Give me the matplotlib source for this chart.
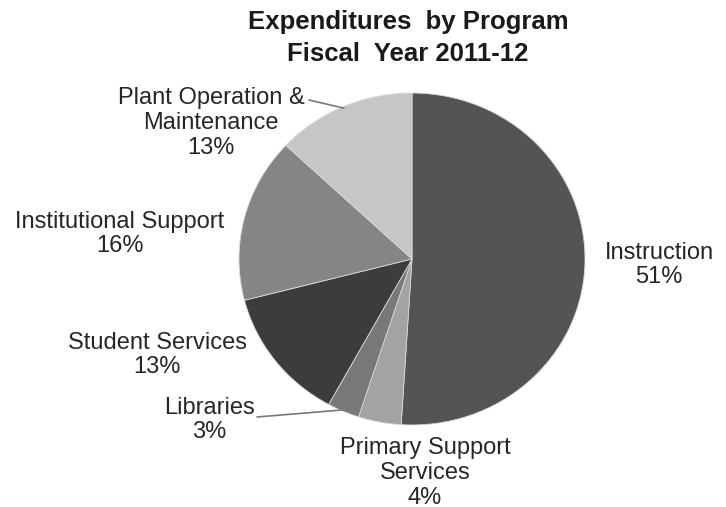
import numpy as np
import matplotlib
matplotlib.use('Agg')
import matplotlib.pyplot as plt

# data
programs = ['Instruction', 'Primary Support\nServices', 'Libraries',
            'Student Services', 'Institutional Support', 'Plant Operation &\nMaintenance']
shares = [51, 4, 3, 13, 16, 13]
slice_colors = ['#545454', '#a3a3a3', '#787878', '#3c3c3c', '#858585', '#c6c6c6']

# label centres in pixels (x, y from top)
label_pos = [(659, 265), (425, 473), (209, 420), (157, 355), (120, 234), (211, 123)]
# leader lines: start of line in pixels, only for some labels
leader_start = {2: (257, 417), 5: (309, 100)}

W, H = 726, 507
plt.rcParams['font.family'] = ['Liberation Sans', 'DejaVu Sans']

fig = plt.figure(figsize=(W / 100, H / 100), dpi=100)

# pie is a little wider than tall in the original
cx, cy, rx, ry = 412, 259, 173, 166
ax = fig.add_axes([(cx - rx) / W, (H - cy - ry) / H, 2 * rx / W, 2 * ry / H])
wedges, _ = ax.pie(shares, colors=slice_colors, startangle=90, counterclock=False,
                   radius=1, wedgeprops=dict(linewidth=0.6, edgecolor='#d8d8d8'))
ax.set_aspect('auto')
ax.set_xlim(-1, 1)
ax.set_ylim(-1, 1)
ax.axis('off')

fig.text(408 / W, 1 - 38 / H, 'Expenditures  by Program\nFiscal  Year 2011-12',
         ha='center', va='center', fontsize=18.5, fontweight='bold',
         color='#1a1a1a', linespacing=1.4)

total = sum(shares)
for i, (name, val) in enumerate(zip(programs, shares)):
    x, y = label_pos[i]
    fig.text(x / W, 1 - y / H, '%s\n%d%%' % (name, round(val * 100 / total)),
             ha='center', va='center', fontsize=17, color='#262626', linespacing=1.15)
    if i in leader_start:
        w = wedges[i]
        mid = np.deg2rad((w.theta1 + w.theta2) / 2)
        sx, sy = leader_start[i]
        ax.annotate('', xy=(np.cos(mid) * 0.99, np.sin(mid) * 0.99), xycoords='data',
                    xytext=(sx, H - sy), textcoords='figure pixels',
                    arrowprops=dict(arrowstyle='-', color='#7a7a7a', lw=1.2,
                                    shrinkA=0, shrinkB=0))

fig.savefig('out.png', dpi=100)
